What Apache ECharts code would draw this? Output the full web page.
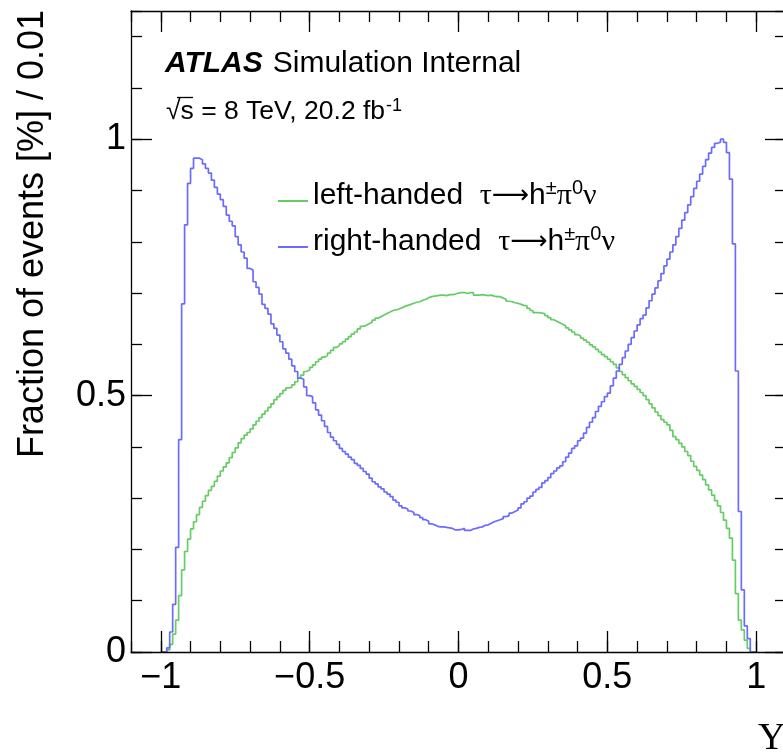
<!DOCTYPE html>
<html>
<head>
<meta charset="utf-8">
<script src="https://cdn.jsdelivr.net/npm/echarts@6/dist/echarts.min.js"></script>
<style>
  html, body { margin: 0; padding: 0; background: #fff; overflow: hidden; }
  #chart { width: 790px; height: 755px; }
</style>
</head>
<body>
<div id="chart"></div>
<script>
// Histogram binning: 200 bins of width 0.01 from -1 to 1
const binLow = -1.0;
const binWidth = 0.01;

// Right-handed tau -> h± π0 ν (blue), fraction of events [%] per bin
const rightHanded = [
  0, 0, 0.008, 0.039, 0.093, 0.204, 0.414, 0.679, 0.833, 0.914,
  0.943, 0.963, 0.963, 0.960, 0.952, 0.943, 0.934, 0.920, 0.906, 0.893,
  0.882, 0.869, 0.852, 0.840, 0.831, 0.810, 0.794, 0.780, 0.768, 0.748,
  0.745, 0.722, 0.711, 0.698, 0.678, 0.670, 0.659, 0.640, 0.631, 0.618,
  0.605, 0.591, 0.583, 0.571, 0.558, 0.547, 0.534, 0.532, 0.517, 0.500,
  0.498, 0.486, 0.472, 0.462, 0.451, 0.440, 0.428, 0.419, 0.412, 0.405,
  0.397, 0.391, 0.386, 0.380, 0.375, 0.368, 0.364, 0.358, 0.352, 0.347,
  0.339, 0.332, 0.328, 0.322, 0.318, 0.312, 0.308, 0.303, 0.296, 0.292,
  0.285, 0.281, 0.279, 0.275, 0.272, 0.268, 0.266, 0.262, 0.258, 0.255,
  0.250, 0.248, 0.245, 0.244, 0.244, 0.243, 0.242, 0.241, 0.238, 0.238,
  0.239, 0.241, 0.237, 0.237, 0.240, 0.241, 0.243, 0.244, 0.247, 0.248,
  0.251, 0.254, 0.256, 0.258, 0.260, 0.264, 0.266, 0.271, 0.274, 0.277,
  0.281, 0.289, 0.293, 0.300, 0.304, 0.312, 0.317, 0.321, 0.330, 0.334,
  0.340, 0.348, 0.353, 0.359, 0.363, 0.371, 0.380, 0.388, 0.397, 0.402,
  0.412, 0.417, 0.427, 0.438, 0.448, 0.457, 0.469, 0.479, 0.488, 0.498,
  0.505, 0.519, 0.534, 0.548, 0.561, 0.574, 0.587, 0.600, 0.613, 0.626,
  0.638, 0.650, 0.657, 0.671, 0.685, 0.698, 0.710, 0.724, 0.738, 0.753,
  0.766, 0.780, 0.794, 0.810, 0.826, 0.842, 0.857, 0.872, 0.888, 0.904,
  0.918, 0.932, 0.947, 0.960, 0.973, 0.984, 0.992, 0.994, 1.000, 0.994,
  0.974, 0.922, 0.796, 0.548, 0.274, 0.121, 0.051, 0.026, 0, 0
];

// Left-handed tau -> h± π0 ν (green)
const leftHanded = [
  0, 0, 0.004, 0.015, 0.035, 0.062, 0.110, 0.160, 0.196, 0.220,
  0.240, 0.254, 0.268, 0.282, 0.294, 0.305, 0.315, 0.323, 0.333, 0.343,
  0.353, 0.361, 0.369, 0.379, 0.389, 0.398, 0.408, 0.416, 0.423, 0.428,
  0.435, 0.443, 0.450, 0.457, 0.464, 0.470, 0.477, 0.484, 0.492, 0.498,
  0.504, 0.510, 0.515, 0.516, 0.521, 0.527, 0.534, 0.540, 0.547, 0.550,
  0.555, 0.560, 0.566, 0.571, 0.575, 0.578, 0.583, 0.588, 0.594, 0.597,
  0.601, 0.605, 0.610, 0.615, 0.620, 0.624, 0.630, 0.635, 0.637, 0.640,
  0.643, 0.647, 0.651, 0.654, 0.657, 0.660, 0.663, 0.666, 0.667, 0.669,
  0.671, 0.674, 0.676, 0.678, 0.680, 0.682, 0.683, 0.686, 0.688, 0.691,
  0.693, 0.694, 0.695, 0.696, 0.696, 0.695, 0.697, 0.697, 0.698, 0.700,
  0.701, 0.701, 0.699, 0.701, 0.701, 0.696, 0.696, 0.697, 0.696, 0.695,
  0.696, 0.694, 0.693, 0.693, 0.690, 0.688, 0.684, 0.683, 0.681, 0.680,
  0.678, 0.676, 0.675, 0.670, 0.666, 0.662, 0.662, 0.661, 0.660, 0.656,
  0.652, 0.648, 0.645, 0.642, 0.639, 0.636, 0.632, 0.628, 0.624, 0.619,
  0.616, 0.612, 0.608, 0.604, 0.599, 0.595, 0.590, 0.585, 0.580, 0.576,
  0.571, 0.566, 0.561, 0.554, 0.547, 0.541, 0.535, 0.529, 0.523, 0.518,
  0.512, 0.506, 0.500, 0.492, 0.484, 0.476, 0.468, 0.461, 0.453, 0.448,
  0.443, 0.432, 0.420, 0.414, 0.407, 0.400, 0.391, 0.383, 0.372, 0.362,
  0.354, 0.345, 0.336, 0.326, 0.316, 0.306, 0.295, 0.285, 0.272, 0.257,
  0.241, 0.222, 0.179, 0.114, 0.062, 0.043, 0.023, 0.007, 0, 0
];

const seriesNames = ['left-handed \u03c4\u2192h\u00b1\u03c00\u03bd', 'right-handed \u03c4\u2192h\u00b1\u03c00\u03bd'];
const seriesRich = [
  '{n|left-handed  }{g|\u03c4}{a|\u27f6}{n|h}{s|\u00b1}{g|\u03c0}{s|0}{g|\u03bd}',
  '{n|right-handed  }{g|\u03c4}{a|\u27f6}{n|h}{s|\u00b1}{g|\u03c0}{s|0}{g|\u03bd}'
];

const xTickValues = [-1, -0.5, 0, 0.5, 1];
const xTickLabels = ['\u22121', '\u22120.5', '0', '0.5', '1'];
const yTickValues = [0, 0.5, 1];
const yTickLabels = ['0', '0.5', '1'];

function toSteps(vals) {
  const pts = vals.map((v, i) => [+(binLow + i * binWidth).toFixed(2), v]);
  pts.push([+(binLow + vals.length * binWidth).toFixed(2), 0]);
  return pts;
}

const FONT = 'Liberation Sans';
const AX = '#000';
const xRange = { min: -1.1, max: 1.1 };
const yRange = { min: 0, max: 1.25 };

function pickLabel(vals, labels, v) {
  const i = vals.findIndex(t => Math.abs(t - v) < 1e-9);
  return i >= 0 ? labels[i] : '';
}

const chart = echarts.init(document.getElementById('chart'), null, { renderer: 'canvas' });
chart.setOption({
  animation: false,
  backgroundColor: '#fff',
  grid: { left: 131, top: 11, right: 4, bottom: 103, containLabel: false },
  xAxis: [
    { type: 'value', ...xRange, interval: 0.1, position: 'bottom', z: 5,
      axisLine: { show: true, onZero: false, lineStyle: { color: AX, width: 1.3 } },
      axisTick: { show: true, inside: true, length: 11, lineStyle: { color: AX, width: 1.3 } },
      axisLabel: { show: false }, splitLine: { show: false } },
    { type: 'value', ...xRange, position: 'bottom', z: 5,
      axisLine: { show: false, onZero: false },
      axisTick: { show: true, inside: true, length: 21, customValues: xTickValues, lineStyle: { color: AX, width: 1.3 } },
      axisLabel: { show: true, customValues: xTickValues, margin: 8, fontSize: 36, fontFamily: FONT, color: '#000',
        formatter: v => pickLabel(xTickValues, xTickLabels, v) },
      splitLine: { show: false } },
    { type: 'value', ...xRange, interval: 0.1, position: 'top', z: 5,
      axisLine: { show: true, onZero: false, lineStyle: { color: AX, width: 1.3 } },
      axisTick: { show: true, inside: true, length: 11, lineStyle: { color: AX, width: 1.3 } },
      axisLabel: { show: false }, splitLine: { show: false } },
    { type: 'value', ...xRange, position: 'top', z: 5,
      axisLine: { show: false, onZero: false },
      axisTick: { show: true, inside: true, length: 21, customValues: xTickValues, lineStyle: { color: AX, width: 1.3 } },
      axisLabel: { show: false }, splitLine: { show: false } }
  ],
  yAxis: [
    { type: 'value', ...yRange, interval: 0.1, position: 'left', z: 5,
      axisLine: { show: true, onZero: false, lineStyle: { color: AX, width: 1.3 } },
      axisTick: { show: true, inside: true, length: 11, lineStyle: { color: AX, width: 1.3 } },
      axisLabel: { show: false }, splitLine: { show: false } },
    { type: 'value', ...yRange, position: 'left', z: 5,
      axisLine: { show: false, onZero: false },
      axisTick: { show: true, inside: true, length: 21, customValues: yTickValues, lineStyle: { color: AX, width: 1.3 } },
      axisLabel: { show: true, customValues: yTickValues, margin: 5, fontSize: 36, fontFamily: FONT, color: '#000',
        formatter: v => pickLabel(yTickValues, yTickLabels, v) },
      splitLine: { show: false } },
    { type: 'value', ...yRange, interval: 0.1, position: 'right', z: 5,
      axisLine: { show: false, onZero: false },
      axisTick: { show: true, inside: true, length: 11, lineStyle: { color: AX, width: 1.3 } },
      axisLabel: { show: false }, splitLine: { show: false } },
    { type: 'value', ...yRange, position: 'right', z: 5,
      axisLine: { show: false, onZero: false },
      axisTick: { show: true, inside: true, length: 21, customValues: yTickValues, lineStyle: { color: AX, width: 1.3 } },
      axisLabel: { show: false }, splitLine: { show: false } }
  ],
  legend: {
    orient: 'vertical', left: 273, top: 173, itemWidth: 30, itemHeight: 2, itemGap: 13,
    icon: 'rect',
    data: seriesNames,
    formatter: name => seriesRich[seriesNames.indexOf(name)],
    textStyle: {
      color: '#000', fontFamily: FONT, fontSize: 30, padding: [0, 0, 10, 0],
      rich: {
        n: { fontSize: 30, fontFamily: FONT, color: '#000', lineHeight: 36, verticalAlign: 'middle' },
        g: { fontSize: 30, fontFamily: 'Liberation Serif', color: '#000', lineHeight: 36, verticalAlign: 'middle' },
        a: { fontSize: 26, fontFamily: 'DejaVu Sans', color: '#000', lineHeight: 36, verticalAlign: 'middle' },
        s: { fontSize: 20, fontFamily: FONT, color: '#000', lineHeight: 30, verticalAlign: 'top' }
      }
    }
  },
  series: [
    { name: seriesNames[0], type: 'line', step: 'end', symbol: 'none', xAxisIndex: 0, yAxisIndex: 0, z: 2,
      data: toSteps(leftHanded), lineStyle: { color: '#66cc66', width: 1.7 }, itemStyle: { color: '#66cc66' } },
    { name: seriesNames[1], type: 'line', step: 'end', symbol: 'none', xAxisIndex: 0, yAxisIndex: 0, z: 2,
      data: toSteps(rightHanded), lineStyle: { color: '#6b6bff', width: 1.7 }, itemStyle: { color: '#6b6bff' } }
  ],
  graphic: [
    { type: 'text', x: 33.5, y: 234, rotation: Math.PI / 2,
      style: { text: 'Fraction of events [%] / 0.01', fontSize: 36, fontFamily: FONT, fill: '#000', align: 'center', verticalAlign: 'middle' } },
    { type: 'text', x: 165, y: 64,
      style: { text: '{a|ATLAS}{b|Simulation Internal}', verticalAlign: 'middle',
        rich: {
          a: { fontSize: 30, fontFamily: FONT, fontStyle: 'italic', fontWeight: 'bold', fill: '#000' },
          b: { fontSize: 30, fontFamily: FONT, fill: '#000', padding: [0, 0, 0, 10] }
        } } },
    { type: 'text', x: 166, y: 112,
      style: { text: '{n|\u221as = 8 TeV, 20.2 fb}{s|-1}', verticalAlign: 'middle',
        rich: {
          n: { fontSize: 26.5, fontFamily: FONT, fill: '#000', lineHeight: 30, verticalAlign: 'middle' },
          s: { fontSize: 18, fontFamily: FONT, fill: '#000', lineHeight: 18, verticalAlign: 'top', padding: [0, 0, 0, 1] }
        } } },
    { type: 'line', shape: { x1: 177, y1: 97.5, x2: 193, y2: 97.5 }, style: { stroke: '#000', lineWidth: 1.3 } },
    { type: 'text', x: 758, y: 720,
      style: { text: '\u03a5', fontSize: 38, fontFamily: 'Liberation Serif', fill: '#000', verticalAlign: 'top' } }
  ]
});
</script>
</body>
</html>
